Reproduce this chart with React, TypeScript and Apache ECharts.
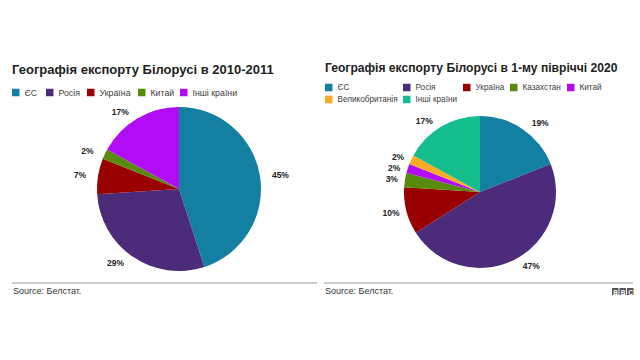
import React, { useEffect, useRef } from "react";
import * as echarts from "echarts";

const leftTitle = "Географія експорту Білорусі в 2010-2011";
const rightTitle = "Географія експорту Білорусі в 1-му півріччі 2020";
const leftNames = ["ЄС", "Росія", "Україна", "Китай", "Інші країни"];
const leftValues = [45, 29, 7, 2, 17];
const leftColors = ["#1380a1", "#4b2b7a", "#990000", "#588a0c", "#b10cf5"];
const rightNames = ["ЄС", "Росія", "Україна", "Казахстан", "Китай", "Великобританія", "Інші країни"];
const rightValues = [19, 47, 10, 3, 2, 2, 17];
const rightColors = ["#1380a1", "#4b2b7a", "#990000", "#588a0c", "#b10cf5", "#fbab25", "#14be8c"];
const sourceText = "Source: Белстат.";

// legend positions (layout only)
const leftLegendPos = [[12, 88], [46, 88], [87, 88], [138, 88], [180, 88]];
const rightLegendPos = [
  [325, 83.5], [403, 83.5], [463, 83.5], [510, 83.5], [567, 83.5],
  [325, 95.5], [403, 95.5],
];

export default function App() {
  const ref = useRef<HTMLDivElement>(null);
  useEffect(() => {
    document.body.style.margin = "0";
    const chart = echarts.init(ref.current!, null, { renderer: "svg" });
    const font = "Liberation Sans, Arial, Helvetica, sans-serif";
    const legends: any[] = [];
    leftNames.forEach((n, i) => {
      legends.push({
        left: leftLegendPos[i][0],
        top: leftLegendPos[i][1],
        padding: 0,
        itemWidth: 7.5,
        itemHeight: 7.5,
        icon: "rect",
        textStyle: { fontSize: 8.8, color: "#404040", fontFamily: font },
        data: [{ name: n, itemStyle: { color: leftColors[i] } }],
        selectedMode: false,
      });
    });
    rightNames.forEach((n, i) => {
      legends.push({
        left: rightLegendPos[i][0],
        top: rightLegendPos[i][1],
        padding: 0,
        itemWidth: 7.5,
        itemHeight: 7.5,
        icon: "rect",
        textStyle: { fontSize: 8.2, color: "#404040", fontFamily: font },
        data: [{ name: n + " ", itemStyle: { color: rightColors[i] } }],
        selectedMode: false,
      });
    });
    const labelStyle = {
      show: true,
      position: "outside",
      formatter: "{c}%",
      fontSize: 8.5,
      fontWeight: "bold",
      color: "#222",
      fontFamily: font,
    };
    chart.setOption({
      animation: false,
      backgroundColor: "#fff",
      title: [
        {
          text: leftTitle,
          left: 12,
          top: 63,
          padding: 0,
          textStyle: { fontSize: 13, fontWeight: "bold", color: "#222", fontFamily: font },
        },
        {
          text: rightTitle,
          left: 325,
          top: 62,
          padding: 0,
          textStyle: { fontSize: 12.1, fontWeight: "bold", color: "#222", fontFamily: font },
        },
      ],
      legend: legends,
      series: [
        {
          type: "pie",
          center: [179, 189],
          radius: 82,
          startAngle: 90,
          clockwise: true,
          label: labelStyle,
          labelLine: { show: false, length: 7, length2: 0 },
          data: leftNames.map((n, i) => ({ name: n, value: leftValues[i], itemStyle: { color: leftColors[i] } })),
        },
        {
          type: "pie",
          center: [480, 192],
          radius: 76,
          startAngle: 90,
          clockwise: true,
          label: labelStyle,
          labelLine: { show: false, length: 7, length2: 0 },
          data: rightNames.map((n, i) => ({ name: n + " ", value: rightValues[i], itemStyle: { color: rightColors[i] } })),
        },
      ],
      graphic: [
        { type: "line", shape: { x1: 12, y1: 283, x2: 317, y2: 283 }, style: { stroke: "#999", lineWidth: 1.2 } },
        { type: "line", shape: { x1: 324, y1: 283, x2: 633, y2: 283 }, style: { stroke: "#999", lineWidth: 1.2 } },
        { type: "text", left: 13, top: 286, style: { text: sourceText, fontSize: 9, fill: "#333", fontFamily: font } },
        { type: "text", left: 325, top: 286, style: { text: sourceText, fontSize: 9, fill: "#333", fontFamily: font } },
        ...["B", "B", "C"].map((ch, i) => ({
          type: "group",
          left: 612 + i * 7.5,
          top: 288,
          children: [
            { type: "rect", shape: { x: 0, y: 0, width: 6.5, height: 7 }, style: { fill: "#555" } },
            { type: "text", x: 1.2, y: 0.5, style: { text: ch, fontSize: 6.5, fontWeight: "bold", fill: "#fff", fontFamily: font } },
          ],
        })),
      ],
    });
    return () => chart.dispose();
  }, []);
  return <div ref={ref} style={{ width: 640, height: 360 }} />;
}
